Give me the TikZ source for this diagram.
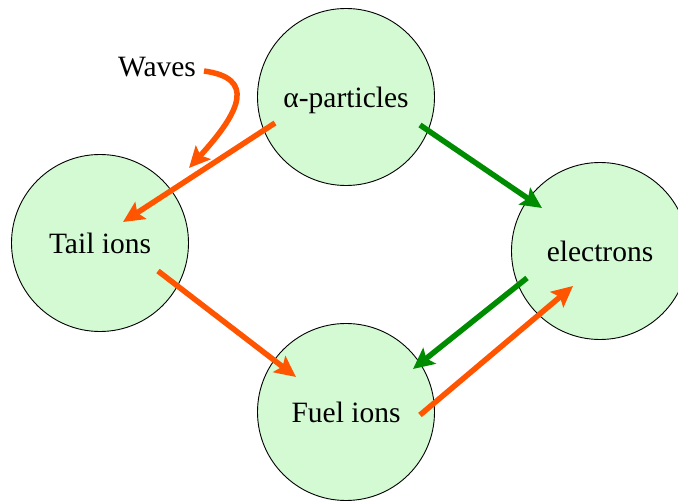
\documentclass[tikz,border=0pt]{standalone}
\usepackage{fontspec}
\setmainfont{Liberation Serif}
\usetikzlibrary{arrows.meta}
\definecolor{arrorange}{RGB}{255,85,0}
\definecolor{arrgreen}{RGB}{0,140,0}
\definecolor{ballfill}{RGB}{212,250,212}
\begin{document}
\begin{tikzpicture}[x=1pt,y=-1pt,
  ball/.style={circle,draw=black,line width=0.9pt,fill=ballfill,minimum size=177pt,inner sep=0pt,
    text depth=0pt,font=\fontsize{29.5}{32}\selectfont},
  lbl/.style={font=\fontsize{29.5}{32}\selectfont,inner sep=2pt},
  oarr/.style={draw=arrorange,line width=5.5pt,-{Stealth[length=21pt,width=20pt,inset=4pt]}},
  garr/.style={draw=arrgreen,line width=5.5pt,-{Stealth[length=21pt,width=20pt,inset=4pt]}}]
\useasboundingbox (0,0) rectangle (678,502);
\begin{scope}
\clip (0,0) rectangle (678,502);
\node[ball] (alpha) at (346,97) {α-particles};
\node[ball] (tail) at (100,243) {Tail ions};
\node[ball] (elec) at (600,251) {electrons};
\node[ball] (fuel) at (346,412) {Fuel ions};
\end{scope}
\node[lbl] (waves) at (157,67) {Waves};
\draw[oarr] ([shift={(-71,26)}]alpha.center) -- ([shift={(23,-21)}]tail.center);
\draw[garr] ([shift={(74,28)}]alpha.center) -- ([shift={(-58,-43)}]elec.center);
\draw[garr] ([shift={(-73,27)}]elec.center) -- ([shift={(67,-43)}]fuel.center);
\draw[oarr] ([shift={(74,3)}]fuel.center) -- ([shift={(-27,35)}]elec.center);
\draw[oarr] ([shift={(58,28)}]tail.center) -- ([shift={(-50,-35)}]fuel.center);
\coordinate (wstart) at ([shift={(47,4)}]waves.center);
\coordinate (wend) at (189,168);
\draw[oarr] (wstart) .. controls (255,78) and (242,110) .. (wend);
\end{tikzpicture}
\end{document}
